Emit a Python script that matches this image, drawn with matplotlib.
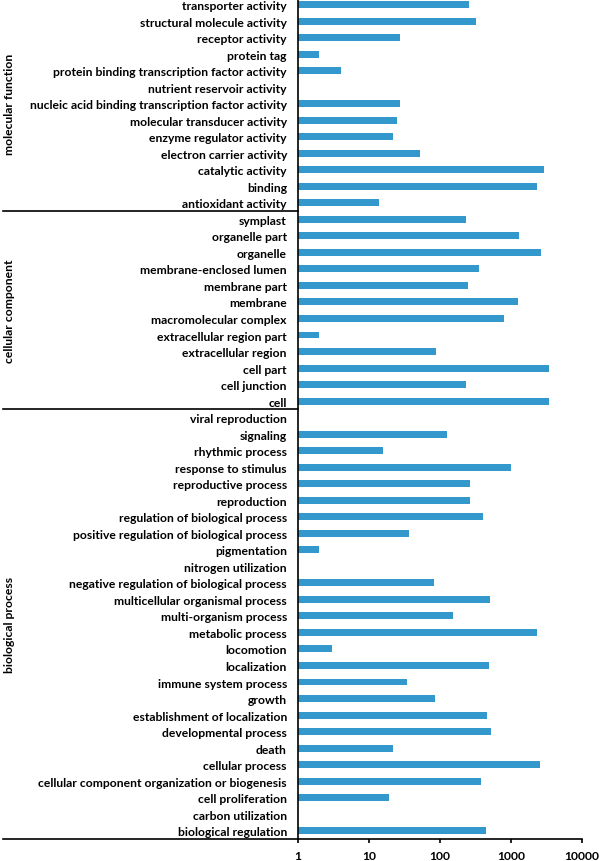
import numpy as np
import matplotlib
matplotlib.use("Agg")
import matplotlib.pyplot as plt
import matplotlib.transforms as mtransforms
from matplotlib.ticker import NullLocator

plt.rcParams['font.family'] = ['Lato', 'DejaVu Sans']

# GO categories, top to bottom as in the chart
mf_terms = ["transporter activity", "structural molecule activity", "receptor activity",
            "protein tag", "protein binding transcription factor activity",
            "nutrient reservoir activity", "nucleic acid binding transcription factor activity",
            "molecular transducer activity", "enzyme regulator activity",
            "electron carrier activity", "catalytic activity", "binding", "antioxidant activity"]
mf_counts = [254, 326, 27, 2, 4, 0, 27, 25, 22, 53, 2900, 2300, 14]

cc_terms = ["symplast", "organelle part", "organelle", "membrane-enclosed lumen",
            "membrane part", "membrane", "macromolecular complex", "extracellular region part",
            "extracellular region", "cell part", "cell junction", "cell"]
cc_counts = [230, 1315, 2670, 360, 245, 1236, 809, 2, 87, 3430, 230, 3430]

bp_terms = ["viral reproduction", "signaling", "rhythmic process", "response to stimulus",
            "reproductive process", "reproduction", "regulation of biological process",
            "positive regulation of biological process", "pigmentation", "nitrogen utilization",
            "negative regulation of biological process", "multicellular organismal process",
            "multi-organism process", "metabolic process", "locomotion", "localization",
            "immune system process", "growth", "establishment of localization",
            "developmental process", "death", "cellular process",
            "cellular component organization or biogenesis", "cell proliferation",
            "carbon utilization", "biological regulation"]
bp_counts = [0, 124, 16, 990, 261, 261, 398, 37, 2, 0, 81, 504, 151, 2300, 3, 486,
             34, 84, 462, 517, 22, 2540, 374, 19, 0, 445]

group_names = ["molecular function", "cellular component", "biological process"]

terms = mf_terms + cc_terms + bp_terms
counts = np.array(mf_counts + cc_counts + bp_counts, dtype=float)
sizes = [len(mf_terms), len(cc_terms), len(bp_terms)]

fig = plt.figure(figsize=(6.0, 8.62), dpi=100)
ax = fig.add_axes([298 / 600, 22 / 862, 284 / 600, 842.75 / 862])

pos = np.arange(len(terms))
widths = np.where(counts > 0, counts - 1, 0)
ax.barh(pos, widths, left=1, height=0.42, color="#3399cc")

ax.set_xscale("log")
ax.set_xlim(1, 10000)
ax.set_ylim(len(terms) - 0.5, -0.5)
ax.xaxis.set_minor_locator(NullLocator())
ax.set_xticks([1, 10, 100, 1000, 10000])
ax.set_xticklabels(["1", "10", "100", "1000", "10000"])
ax.set_yticks(pos)
ax.set_yticklabels(terms)
ax.tick_params(axis="y", length=0, pad=8, labelsize=8.75)
ax.tick_params(axis="x", length=3, width=1.2, direction="out", pad=5, labelsize=8.75)
for lab in ax.get_xticklabels() + ax.get_yticklabels():
    lab.set_fontweight("bold")

for side in ["top", "right"]:
    ax.spines[side].set_visible(False)
for side in ["left", "bottom"]:
    ax.spines[side].set_linewidth(1.2)

# separators and group labels on the left
trans = mtransforms.blended_transform_factory(fig.transFigure, ax.transData)
x_start = 3 / 600
x_axis = 298 / 600
start = 0
for i, (name, n) in enumerate(zip(group_names, sizes)):
    end = start + n
    ax.plot([x_start, x_axis], [end - 0.5, end - 0.5], color="black", lw=1.2,
            transform=trans, clip_on=False)
    ax.text(10 / 600, (start + end - 1) / 2, name, rotation=90, ha="center", va="center",
            fontsize=8.75, fontweight="bold", transform=trans)
    start = end

fig.savefig("out.png", dpi=100)
